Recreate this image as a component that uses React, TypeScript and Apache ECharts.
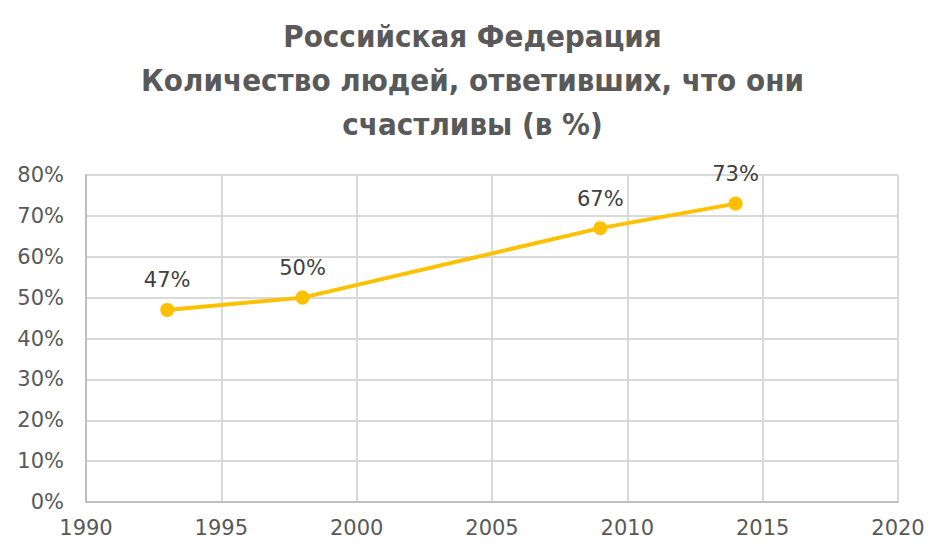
import React, { useEffect, useRef } from "react";
import * as echarts from "echarts";

const titleLines = [
  "Российская Федерация",
  "Количество людей, ответивших, что они",
  "счастливы (в %)",
];
const years = [1993, 1998, 2009, 2014];
const happyPct = [47, 50, 67, 73];

export default function App() {
  const ref = useRef<HTMLDivElement>(null);
  useEffect(() => {
    if (!ref.current) return;
    const chart = echarts.init(ref.current, null, { renderer: "svg" });
    chart.setOption({
      animation: false,
      backgroundColor: "#ffffff",
      title: {
        text: titleLines.join("\n"),
        left: "center",
        top: 9,
        textStyle: {
          fontFamily: "DejaVu Sans Condensed",
          fontWeight: "bold",
          fontSize: 31,
          lineHeight: 44,
          color: "#595959",
        },
      },
      grid: { left: 86, right: 47, top: 175, bottom: 54 },
      xAxis: {
        type: "value",
        min: 1990,
        max: 2020,
        interval: 5,
        axisLine: { show: true, lineStyle: { color: "#bfbfbf", width: 2 } },
        axisTick: { show: false },
        splitLine: { show: true, lineStyle: { color: "#d9d9d9", width: 2 } },
        axisLabel: {
          color: "#595959",
          fontSize: 21,
          fontFamily: "DejaVu Sans",
          margin: 15,
          formatter: (v: number) => String(v),
        },
      },
      yAxis: {
        type: "value",
        min: 0,
        max: 80,
        interval: 10,
        axisLine: { show: true, lineStyle: { color: "#bfbfbf", width: 2 } },
        axisTick: { show: false },
        splitLine: { show: true, lineStyle: { color: "#d9d9d9", width: 2 } },
        axisLabel: {
          color: "#595959",
          fontSize: 21,
          fontFamily: "DejaVu Sans",
          margin: 22,
          formatter: (v: number) => v + "%",
        },
      },
      series: [
        {
          type: "line",
          data: years.map((y, i) => [y, happyPct[i]]),
          symbol: "circle",
          symbolSize: 14,
          lineStyle: { color: "#FFC000", width: 4 },
          itemStyle: { color: "#FFC000" },
          label: {
            show: true,
            position: "top",
            distance: 12,
            color: "#404040",
            fontSize: 21,
            fontFamily: "DejaVu Sans",
            formatter: (p: any) => p.value[1] + "%",
          },
        },
      ],
    });
    return () => chart.dispose();
  }, []);
  return (
    <div
      ref={ref}
      style={{ position: "fixed", left: 0, top: 0, width: 945, height: 556 }}
    />
  );
}
